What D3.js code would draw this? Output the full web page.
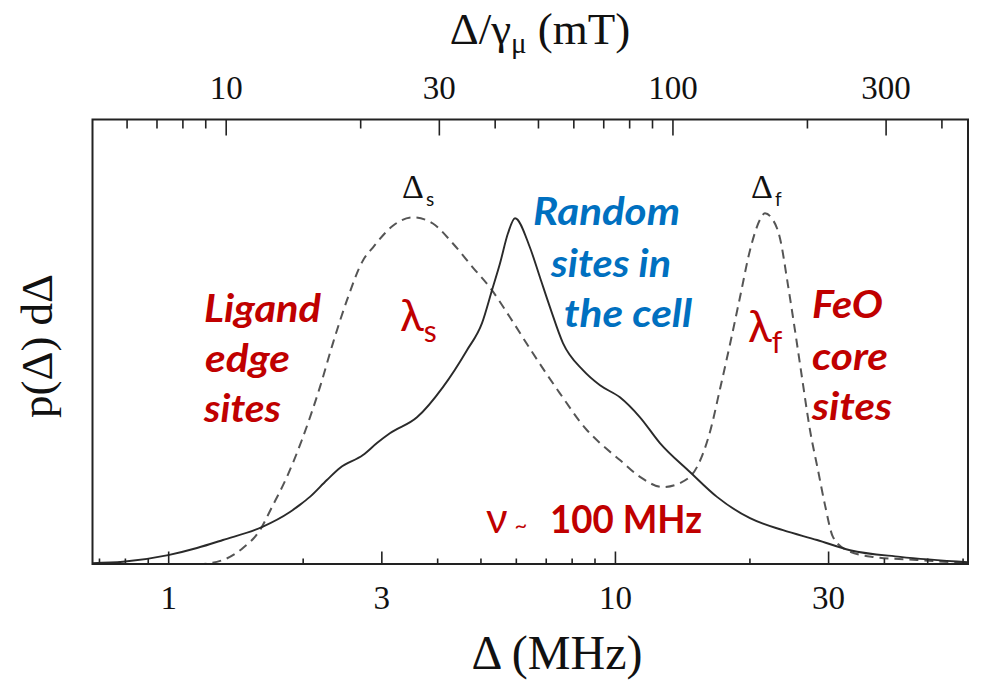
<!DOCTYPE html>
<html>
<head>
<meta charset="utf-8">
<script src="https://cdn.jsdelivr.net/npm/d3@7"></script>
<style>
  html, body { margin: 0; padding: 0; background: #fff; }
  svg { display: block; }
</style>
</head>
<body>
<svg id="chart" width="988" height="680"></svg>
<script>
// ---------------- data ----------------
// Solid curve: random muon sites in the cell  (Δ in MHz, p(Δ) in arbitrary units)
const solidDelta = [0.677, 0.792, 1.00, 1.16, 1.326, 1.621, 1.873, 1.971, 2.076, 2.266, 2.423, 2.729, 2.933, 3.135, 3.605, 4.121, 4.664, 5.04, 5.306, 5.529, 5.762, 5.974, 6.453, 6.794, 7.153, 7.65, 8.48, 9.26, 10.26, 11.38, 12.61, 14.72, 16.92, 20.06, 23.78, 28.34, 33.6, 43.5, 61.7];
const solidP     = [0.002, 0.005, 0.020, 0.036, 0.054, 0.083, 0.117, 0.133, 0.151, 0.189, 0.216, 0.245, 0.272, 0.294, 0.330, 0.398, 0.481, 0.542, 0.616, 0.676, 0.744, 0.778, 0.712, 0.645, 0.578, 0.497, 0.436, 0.402, 0.375, 0.330, 0.272, 0.207, 0.151, 0.103, 0.076, 0.054, 0.031, 0.016, 0.004];

// Dashed curve: ligand edge sites (Δs peak) + FeO core sites (Δf peak)
const dashedDelta = [0.677, 0.91, 1.178, 1.326, 1.470, 1.604, 1.707, 1.844, 1.992, 2.186, 2.338, 2.512, 2.729, 2.872, 3.184, 3.529, 3.913, 4.338, 4.809, 5.251, 5.821, 6.553, 7.53, 8.66, 9.26, 10.26, 11.38, 12.81, 13.98, 15.26, 16.32, 17.18, 18.09, 19.05, 20.06, 21.13, 21.67, 22.35, 23.41, 24.40, 25.29, 26.22, 27.33, 28.48, 29.52, 30.76, 33.07, 37.82, 47.45, 61.7];
const dashedP     = [0.0, 0.0, 0.0, 0.009, 0.036, 0.076, 0.128, 0.196, 0.279, 0.398, 0.497, 0.593, 0.683, 0.712, 0.761, 0.780, 0.766, 0.721, 0.667, 0.622, 0.555, 0.474, 0.384, 0.301, 0.272, 0.234, 0.196, 0.173, 0.182, 0.218, 0.297, 0.393, 0.494, 0.600, 0.706, 0.775, 0.789, 0.780, 0.733, 0.627, 0.526, 0.420, 0.301, 0.211, 0.133, 0.061, 0.031, 0.016, 0.009, 0.002];

// Axis ticks
const xDomain = [0.677, 61.7];                 // Δ (MHz)
const bottomMajor = [1, 3, 10, 30];
const bottomMinor = [0.7, 0.8, 0.9, 2, 4, 5, 6, 7, 8, 9, 20, 40, 50, 60];
const GAMMA_MU = 0.1345;                       // MHz per mT (γμ/2π)
const topMajor = [10, 30, 100, 300];           // mT
const topMinor = [6, 7, 8, 9, 20, 40, 50, 60, 70, 80, 90, 200, 400];

// ---------------- layout ----------------
const L = 92.5, R = 968, T = 119.5, B = 564;
const svg = d3.select("#chart");

const x = d3.scaleLog().domain(xDomain).range([L, R]);
const xTop = d3.scaleLog().domain(xDomain.map(d => d / GAMMA_MU)).range([L, R]);
const y = d3.scaleLinear().domain([0, 1]).range([B, T]);

const serif = "'Liberation Serif', 'Times New Roman', serif";
const sans = "Lato, 'Open Sans', sans-serif";
const red = "#c00000", blue = "#0070c0";

svg.append("clipPath").attr("id", "clip")
  .append("rect").attr("x", L).attr("y", T - 2).attr("width", R - L).attr("height", B - T + 4);

// curves
const line = d3.line().x(d => x(d[0])).y(d => y(d[1])).curve(d3.curveMonotoneX);
const plot = svg.append("g").attr("clip-path", "url(#clip)");
plot.append("path")
  .datum(dashedDelta.map((d, i) => [d, dashedP[i]]))
  .attr("d", line).attr("fill", "none")
  .attr("stroke", "#555").attr("stroke-width", 2)
  .attr("stroke-dasharray", "9,6");
plot.append("path")
  .datum(solidDelta.map((d, i) => [d, solidP[i]]))
  .attr("d", line).attr("fill", "none")
  .attr("stroke", "#2a2a2a").attr("stroke-width", 1.9);

// axes
function styleAxis(g) {
  g.select(".domain").remove();
  g.selectAll(".tick line").attr("stroke", "#222").attr("stroke-width", 1.6);
}
svg.append("g").attr("transform", `translate(0,${B})`)
  .call(d3.axisBottom(x).tickValues(bottomMinor).tickSize(-5.5).tickFormat(""))
  .call(styleAxis);
svg.append("g").attr("transform", `translate(0,${B})`)
  .call(d3.axisBottom(x).tickValues(bottomMajor).tickSize(-12.5).tickFormat(d3.format("d")))
  .call(styleAxis)
  .call(g => g.selectAll("text").attr("y", 45).attr("dy", 0)
    .attr("font-family", serif).attr("font-size", 33).attr("fill", "#111"));

svg.append("g").attr("transform", `translate(0,${T})`)
  .call(d3.axisTop(xTop).tickValues(topMinor).tickSize(-9).tickFormat(""))
  .call(styleAxis);
svg.append("g").attr("transform", `translate(0,${T})`)
  .call(d3.axisTop(xTop).tickValues(topMajor).tickSize(-16).tickFormat(d3.format("d")))
  .call(styleAxis)
  .call(g => g.selectAll("text").attr("y", -21).attr("dy", 0)
    .attr("font-family", serif).attr("font-size", 33).attr("fill", "#111"));

// frame
svg.append("rect").attr("x", L).attr("y", T).attr("width", R - L).attr("height", B - T)
  .attr("fill", "none").attr("stroke", "#222").attr("stroke-width", 2);

// axis titles
const topTitle = svg.append("text").attr("x", 540).attr("y", 44)
  .attr("text-anchor", "middle").attr("font-family", serif).attr("font-size", 45).attr("fill", "#111");
topTitle.append("tspan").text("Δ/γ");
topTitle.append("tspan").attr("font-size", 29).attr("dy", 9).text("μ");
topTitle.append("tspan").attr("dy", -9).text(" (mT)");

svg.append("text").attr("x", 557).attr("y", 669)
  .attr("text-anchor", "middle").attr("font-family", serif).attr("font-size", 48).attr("fill", "#111")
  .text("Δ (MHz)");

svg.append("text").attr("transform", "translate(52,346) rotate(-90)")
  .attr("text-anchor", "middle").attr("font-family", serif).attr("font-size", 45).attr("fill", "#111")
  .text("p(Δ) dΔ");

// peak labels
function deltaLabel(xx, yy, sub) {
  const t = svg.append("text").attr("x", xx).attr("y", yy)
    .attr("font-family", serif).attr("font-size", 34).attr("fill", "#111");
  t.append("tspan").text("Δ");
  t.append("tspan").attr("font-family", sans).attr("font-size", 19).attr("dy", 8).attr("dx", 2).text(sub);
}
deltaLabel(402, 198, "s");
deltaLabel(751, 198, "f");

function lambdaLabel(xx, yy, sub) {
  const t = svg.append("text").attr("x", xx).attr("y", yy)
    .attr("font-family", sans).attr("font-size", 44).attr("fill", red);
  t.append("tspan").text("λ");
  t.append("tspan").attr("font-size", 30).attr("dy", 11).text(sub);
}
lambdaLabel(400, 331, "s");
lambdaLabel(748, 342, "f");

// annotations: [text, x, baseline, width]
function block(lines, color) {
  lines.forEach(([txt, xx, yy, w]) => {
    svg.append("text").attr("x", xx).attr("y", yy)
      .attr("font-family", sans).attr("font-size", 39).attr("font-weight", "bold")
      .attr("font-style", "italic").attr("fill", color)
      .attr("textLength", w).attr("lengthAdjust", "spacingAndGlyphs").text(txt);
  });
}
block([["Ligand", 204, 322, 117], ["edge", 205, 372, 85], ["sites", 204, 422, 77]], red);
block([["Random", 533, 225, 147], ["sites in", 551, 277, 120], ["the cell", 564, 327, 128]], blue);
block([["FeO", 812, 318, 71], ["core", 812, 370, 76], ["sites", 812, 420, 80]], red);

const nu = svg.append("text").attr("x", 486).attr("y", 533)
  .attr("font-family", sans).attr("font-size", 42).attr("fill", red);
nu.append("tspan").text("ν");
nu.append("tspan").attr("font-size", 22).attr("dx", 7).text("~");
svg.append("text").attr("x", 550).attr("y", 533)
  .attr("font-family", sans).attr("font-size", 39).attr("font-weight", "bold").attr("fill", red)
  .attr("textLength", 152).attr("lengthAdjust", "spacingAndGlyphs").text("100 MHz");
</script>
</body>
</html>
